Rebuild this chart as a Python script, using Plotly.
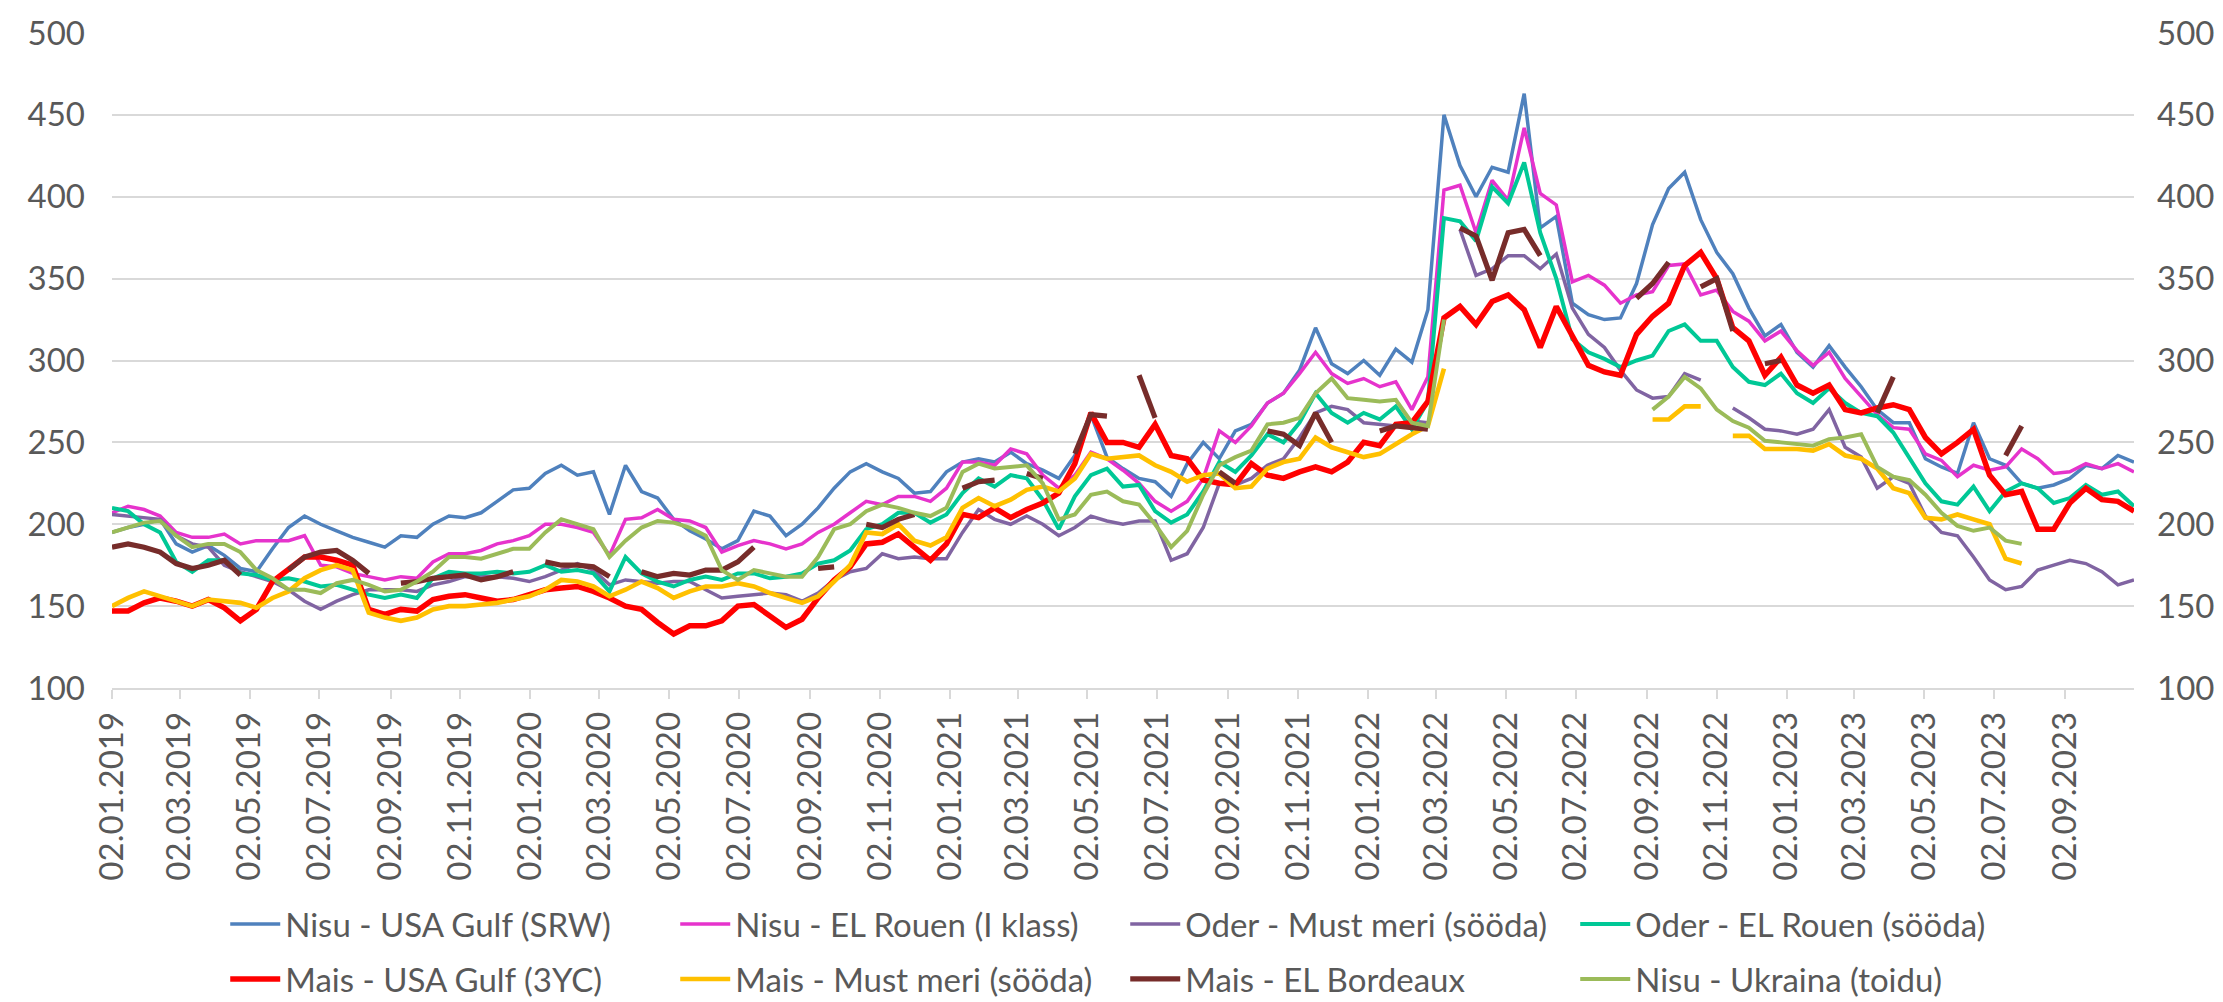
import plotly.graph_objects as go
import pandas as pd

N = None

# Biweekly observation dates (02.01.2019 ... 01.11.2023)
dates = pd.date_range("2019-01-02", periods=127, freq="14D")

nisu_usa_gulf = [
    195, 198, 200, 203, 188, 183, 187, 181, 173, 171, 185, 198, 205, 200, 196, 192, 189, 186, 193,
    192, 200, 205, 204, 207, 214, 221, 222, 231, 236, 230, 232, 206, 236, 220, 216, 203, 196,
    191, 185, 190, 208, 205, 193, 200, 210, 222, 232, 237, 232, 228, 219, 220, 232, 238, 240,
    238, 244, 237, 233, 228, 242, 267, 241, 234, 228, 226, 217, 237, 250, 240, 257, 261, 274,
    280, 294, 320, 298, 292, 300, 291, 307, 299, 331, 450, 419, 400, 418, 415, 463, 381, 388,
    335, 328, 325, 326, 347, 383, 405, 415, 386, 366, 353, 332, 315, 322, 305, 296, 309, 296,
    284, 270, 262, 262, 240, 235, 231, 262, 240, 236, 225, 222, 224, 228, 236, 234, 242, 238,
]

nisu_el_rouen = [
    207, 211, 209, 205, 195, 192, 192, 194, 188, 190, 190, 190, 193, 175, 174, 170, 168, 166, 168,
    167, 177, 182, 182, 184, 188, 190, 193, 200, 200, 198, 195, 181, 203, 204, 209, 203, 202,
    198, 183, 187, 190, 188, 185, 188, 195, 200, 207, 214, 212, 217, 217, 214, 222, 238, 238,
    236, 246, 243, 230, 222, 230, 244, 240, 233, 225, 214, 208, 214, 228, 257, 250, 260, 274,
    280, 292, 305, 292, 286, 289, 284, 287, 270, 290, 404, 407, 378, 410, 398, 442, 402, 395,
    348, 352, 346, 335, 340, 342, 358, 359, 340, 343, 330, 324, 312, 318, 306, 297, 305, 289,
    278, 267, 259, 258, 243, 239, 229, 236, 233, 235, 246, 240, 231, 232, 237, 234, 237, 232,
]

oder_must_meri = [
    206, 205, 204, 203, 193, 188, 186, 175, 171, 168, 165, 160, 153, 148, 153, 157, 160, 160, 160,
    159, 163, 165, 168, 168, 168, 167, 165, 168, 172, 176, 172, 163, 166, 165, 164, 165, 165,
    160, 155, 156, 157, 158, 157, 153, 158, 166, 171, 173, 182, 179, 180, 179, 179, 195, 209,
    203, 200, 205, 200, 193, 198, 205, 202, 200, 202, 202, 178, 182, 198, 225, 224, 228, 236,
    240, 253, 268, 272, 270, 262, 261, 260, 263, 262, N, 380, 352, 356, 364, 364, 356, 365,
    332, 316, 308, 294, 282, 277, 278, 292, 288, N, 271, 265, 258, 257, 255, 258, 270, 247,
    241, 222, 229, 225, 205, 195, 193, 180, 166, 160, 162, 172, 175, 178, 176, 171, 163, 166,
]

oder_el_rouen = [
    210, 208, 200, 195, 177, 171, 178, 178, 170, 169, 166, 167, 165, 162, 163, 160, 157, 155, 157,
    155, 167, 171, 170, 170, 171, 170, 171, 175, 171, 172, 170, 159, 180, 170, 165, 162, 166,
    168, 166, 170, 170, 167, 168, 170, 176, 178, 184, 197, 200, 207, 207, 201, 206, 219, 228,
    223, 230, 228, 215, 197, 217, 230, 234, 223, 224, 208, 201, 206, 220, 238, 232, 242, 255,
    250, 262, 280, 268, 262, 268, 264, 272, 258, 275, 387, 385, 373, 406, 396, 421, 378, 350,
    313, 305, 301, 296, 300, 303, 318, 322, 312, 312, 296, 287, 285, 292, 280, 274, 283, 274,
    268, 266, 256, 240, 225, 214, 212, 223, 208, 220, 225, 222, 213, 216, 224, 218, 220, 211,
]

mais_usa_gulf = [
    147, 147, 152, 155, 153, 150, 154, 149, 141, 148, 165, 172, 180, 180, 178, 175, 148, 145, 148,
    147, 154, 156, 157, 155, 153, 154, 157, 160, 161, 162, 159, 155, 150, 148, 140, 133, 138,
    138, 141, 150, 151, 144, 137, 142, 155, 166, 174, 188, 189, 194, 186, 178, 188, 206, 204,
    210, 204, 209, 213, 219, 237, 268, 250, 250, 247, 261, 242, 240, 227, 225, 224, 237, 230,
    228, 232, 235, 232, 238, 250, 248, 261, 262, 275, 326, 333, 322, 336, 340, 331, 308, 333,
    315, 297, 293, 291, 316, 327, 335, 358, 366, 350, 320, 312, 291, 302, 285, 280, 285, 270,
    268, 271, 273, 270, 253, 243, 250, 258, 230, 218, 220, 197, 197, 213, 222, 215, 214, 208,
]

mais_must_meri = [
    150, 155, 159, 156, 153, 150, 154, 153, 152, 149, 155, 159, 167, 172, 175, 172, 146, 143, 141,
    143, 148, 150, 150, 151, 152, 154, 156, 160, 166, 165, 162, 156, 160, 165, 161, 155, 159,
    162, 162, 164, 162, 158, 155, 152, 156, 165, 175, 195, 194, 200, 190, 187, 192, 210, 216,
    211, 215, 221, 223, 220, 228, 243, 240, 241, 242, 236, 232, 226, 230, 231, 222, 223, 234,
    238, 240, 253, 247, 244, 241, 243, 249, 255, 260, 295, N, N, N, N, N, N, N,
    N, N, N, N, N, 264, 264, 272, 272, N, 254, 254, 246, 246, 246, 245, 249, 242,
    240, 234, 222, 219, 204, 203, 206, 203, 200, 179, 176, N, N, N, N, N, N, N,
]

mais_el_bordeaux = [
    186, 188, 186, 183, 176, 173, 175, 178, 169, N, N, 172, 180, 183, 184, 178, 170, N, 164,
    165, 167, 168, 169, 166, 168, 171, N, 177, 175, 175, 174, 168, N, 171, 168, 170, 169,
    172, 172, 177, 186, N, N, N, 173, 174, N, 200, 198, 203, 206, N, N, 222, 226,
    227, N, 231, 228, N, 243, 267, 266, N, 291, 265, N, N, N, 232, 225, N, 257,
    255, 248, 268, 250, N, N, 257, 260, 259, 258, N, 381, 376, 349, 378, 380, 364, N,
    N, N, N, N, 338, 347, 360, N, 345, 350, 318, N, 298, 300, N, N, N, N,
    N, 268, 290, N, N, N, N, N, N, 242, 260, N, N, N, N, N, N, N,
]

nisu_ukraina = [
    195, 198, 201, 202, 193, 186, 188, 188, 183, 172, 167, 160, 160, 158, 164, 166, 163, 159, 160,
    165, 171, 180, 180, 179, 182, 185, 185, 195, 203, 200, 197, 180, 190, 198, 202, 201, 198,
    193, 172, 166, 172, 170, 168, 168, 180, 197, 200, 208, 212, 210, 207, 205, 210, 232, 237,
    234, 235, 236, 225, 203, 206, 218, 220, 214, 212, 200, 186, 196, 218, 236, 241, 245, 261,
    262, 265, 280, 289, 277, 276, 275, 276, 262, 260, 325, N, N, N, N, N, N, N,
    N, N, N, N, N, 270, 278, 290, 283, 270, 263, 259, 251, 250, 249, 248, 252, 253,
    255, 235, 229, 227, 218, 207, 199, 196, 198, 190, 188, N, N, N, N, N, N, N,
]

series_names = [
    "Nisu - USA Gulf (SRW)", "Nisu - EL Rouen (I klass)", "Oder - Must meri (sööda)",
    "Oder - EL Rouen (sööda)", "Mais - USA Gulf (3YC)", "Mais - Must meri (sööda)",
    "Mais - EL Bordeaux", "Nisu - Ukraina (toidu)",
]
series_values = [
    nisu_usa_gulf, nisu_el_rouen, oder_must_meri, oder_el_rouen,
    mais_usa_gulf, mais_must_meri, mais_el_bordeaux, nisu_ukraina,
]
colors = ["#4F81BD", "#E633CC", "#8064A2", "#00C896", "#FF0000", "#FFC000", "#772C2A", "#9BBB59"]
widths = [3.5, 3.5, 3.5, 4.0, 5.5, 4.6, 5.2, 4.0]
legend_rows = ["legend", "legend", "legend", "legend", "legend2", "legend2", "legend2", "legend2"]

FONT = "Lato, Carlito, Calibri, Liberation Sans, sans-serif"
GREY = "#595959"
GRID = "#D9D9D9"

fig = go.Figure()
for name, vals, col, w, lg in zip(series_names, series_values, colors, widths, legend_rows):
    fig.add_trace(go.Scatter(x=dates, y=vals, mode="lines", name=name, legend=lg,
                             line=dict(color=col, width=w), connectgaps=False))

# invisible copy for the right-hand axis
fig.add_trace(go.Scatter(x=dates, y=nisu_usa_gulf, yaxis="y2", mode="lines",
                         line=dict(width=0, color="rgba(0,0,0,0)"), showlegend=False,
                         hoverinfo="skip"))

yticks = [100, 150, 200, 250, 300, 350, 400, 450, 500]

legend_common = dict(
    orientation="h", xref="paper", x=0.056, xanchor="left",
    yref="container", yanchor="middle",
    font=dict(family=FONT, size=33, color=GREY),
    entrywidth=385, entrywidthmode="pixels", traceorder="normal", itemwidth=50,
    bgcolor="rgba(0,0,0,0)",
)

fig.update_layout(
    width=2223, height=1002,
    margin=dict(l=104, r=97, t=25, b=322, autoexpand=False),
    plot_bgcolor="white", paper_bgcolor="white",
    font=dict(family=FONT, color=GREY),
    xaxis=dict(
        type="date", range=["2019-01-02", "2023-11-01"], automargin=False,
        tick0="2019-01-02", dtick="M2", tickformat="%d.%m.%Y", tickangle=-90,
        ticks="outside", ticklen=9, tickcolor=GRID, tickwidth=1.5,
        showline=True, linecolor=GRID, linewidth=1.5, showgrid=False, zeroline=False,
        tickfont=dict(family=FONT, size=33, color=GREY),
    ),
    yaxis=dict(
        range=[100, 500], tickvals=yticks, showgrid=True, gridcolor=GRID, gridwidth=1.5,
        zeroline=False, showline=False, ticks="", ticklabelstandoff=26, automargin=False,
        tickfont=dict(family=FONT, size=33, color=GREY),
    ),
    yaxis2=dict(
        range=[100, 500], tickvals=yticks, overlaying="y", side="right", showgrid=False,
        zeroline=False, showline=False, ticks="", ticklabelstandoff=22, automargin=False,
        tickfont=dict(family=FONT, size=33, color=GREY),
    ),
    legend=dict(legend_common, y=1 - 916 / 1002),
    legend2=dict(legend_common, y=1 - 971 / 1002),
    showlegend=True,
)

fig.write_html("out.html")
